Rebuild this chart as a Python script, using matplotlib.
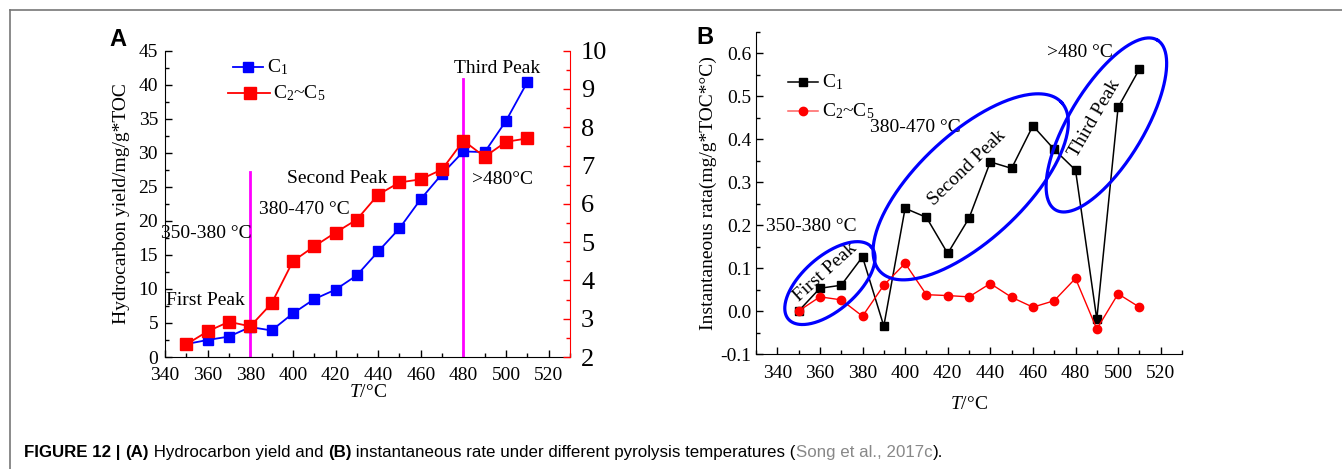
import numpy as np
import matplotlib
matplotlib.use("Agg")
import matplotlib.pyplot as plt
from matplotlib.ticker import MultipleLocator
from matplotlib.lines import Line2D

plt.rcParams['font.family'] = ['Liberation Serif', 'DejaVu Serif']
plt.rcParams['mathtext.fontset'] = 'custom'
plt.rcParams['mathtext.rm'] = 'Liberation Serif'
plt.rcParams['mathtext.it'] = 'Liberation Serif:italic'

# ---------------- data ----------------
temps = [350, 360, 370, 380, 390, 400, 410, 420, 430, 440, 450, 460, 470, 480, 490, 500, 510]
yield_c1 = [1.9, 2.5, 3.0, 4.4, 3.9, 6.4, 8.5, 9.9, 12.0, 15.5, 18.9, 23.2, 26.9, 30.2, 30.1, 34.7, 40.4]
yield_c2c5 = [2.33, 2.67, 2.92, 2.80, 3.40, 4.50, 4.89, 5.25, 5.59, 6.24, 6.56, 6.64, 6.90, 7.65, 7.23, 7.62, 7.71]
rate_c1 = [0.0, 0.053, 0.060, 0.126, -0.035, 0.239, 0.218, 0.134, 0.216, 0.347, 0.332, 0.431, 0.376, 0.328, -0.019, 0.474, 0.563]
rate_c2c5 = [0.0, 0.033, 0.026, -0.012, 0.060, 0.111, 0.038, 0.036, 0.033, 0.064, 0.032, 0.009, 0.024, 0.076, -0.042, 0.040, 0.009]
x_ticks = [340, 360, 380, 400, 420, 440, 460, 480, 500, 520]
peak_bounds = [380, 480]
peak_line_tops = [27.2, 40.9]
series_names = ['C$_1$', 'C$_2$~C$_5$']

W, H = 1342, 469
fig = plt.figure(figsize=(W / 100, H / 100), dpi=100)

def fx(px):
    return px / W

def fy(py):
    return 1 - py / H

def px2data(ax, px, py):
    return ax.transData.inverted().transform((px, H - py))

# frame lines of the figure box
fig.add_artist(Line2D([fx(9.5), 1.0], [fy(10.5), fy(10.5)], color='#777777', lw=1.2))
fig.add_artist(Line2D([fx(9.5), fx(9.5)], [fy(10.5), 0.0], color='#777777', lw=1.2))

# ---------------- panel A ----------------
axA = fig.add_axes([fx(165), fy(357), fx(570 - 165), (357 - 50.7) / H])
axA.plot(temps, yield_c1, color='#0000ff', marker='s', ms=7, lw=1.3, zorder=3)
axA.set_xlim(340, 530)
axA.set_ylim(0, 45)
axA.xaxis.set_major_locator(MultipleLocator(20))
axA.xaxis.set_minor_locator(MultipleLocator(10))
axA.yaxis.set_major_locator(MultipleLocator(5))
axA.yaxis.set_minor_locator(MultipleLocator(2.5))
axA.spines['top'].set_visible(False)
axA.spines['right'].set_visible(False)
axA.tick_params(which='both', direction='in', labelsize=14, top=False, right=False)
axA.tick_params(which='major', length=5, width=1)
axA.tick_params(which='minor', length=3, width=1)
axA.tick_params(axis='x', pad=7)
axA.tick_params(axis='y', pad=5)
for i, b in enumerate(peak_bounds):
    axA.plot([b, b], [0, peak_line_tops[i]], color='#ff00ff', lw=2, zorder=2)
axA.set_ylabel('Hydrocarbon yield/mg/g*TOC', fontsize=14, labelpad=6)
axA.set_xlabel('$T$/°C', fontsize=14, labelpad=0)

axA2 = axA.twinx()
axA2.plot(temps, yield_c2c5, color='#ff0000', marker='s', ms=8.5, lw=1.3, zorder=3)
axA2.set_ylim(2, 10)
axA2.yaxis.set_major_locator(MultipleLocator(1))
axA2.yaxis.set_minor_locator(MultipleLocator(0.5))
axA2.spines['top'].set_visible(False)
axA2.spines['left'].set_visible(False)
axA2.spines['bottom'].set_visible(False)
axA2.spines['right'].set_color('#ff0000')
axA2.tick_params(which='both', direction='in', colors='#ff0000', labelcolor='black', labelsize=19)
axA2.tick_params(which='major', length=5, width=1, pad=8)
axA2.tick_params(which='minor', length=3, width=1)

# legend A (drawn manually, positions in pixels)
for (x0, x1, xm, py, col, ms, tx, name) in [(233, 263, 248, 67, '#0000ff', 7, 267, series_names[0]),
                                             (228, 270, 250, 93, '#ff0000', 8.5, 273, series_names[1])]:
    p0 = px2data(axA, x0, py)
    p1 = px2data(axA, x1, py)
    pm = px2data(axA, xm, py)
    axA.plot([p0[0], p1[0]], [p0[1], p1[1]], color=col, lw=1.3, clip_on=False)
    axA.plot([pm[0]], [pm[1]], color=col, marker='s', ms=ms, ls='none', clip_on=False)
    pt = px2data(axA, tx, py)
    axA.text(pt[0], pt[1], name, fontsize=14, va='center', ha='left')

def txtA(px, py, s):
    p = px2data(axA, px, py)
    axA.text(p[0], p[1], s, fontsize=14, ha='center', va='center')

txtA(497, 68, 'Third Peak')
txtA(337, 178, 'Second Peak')
txtA(304, 209, '380-470 °C')
txtA(502.5, 179, '>480°C')
txtA(206, 233, '350-380 °C')
txtA(205.5, 300, 'First Peak')

fig.text(fx(118), fy(40), 'A', fontsize=17, fontweight='bold', family='Liberation Sans',
         ha='center', va='center')

# ---------------- panel B ----------------
axB = fig.add_axes([fx(756), fy(354), fx(1182 - 756), (354 - 31.7) / H])
axB.plot(temps, rate_c1, color='black', marker='s', ms=5.5, lw=1.1, zorder=3)
axB.plot(temps, rate_c2c5, color='#ff0000', marker='o', ms=6, lw=1.0, zorder=3)
axB.set_xlim(330, 530)
axB.set_ylim(-0.1, 0.65)
axB.set_xticks(x_ticks)
axB.xaxis.set_minor_locator(MultipleLocator(10))
yt = np.round(np.arange(-0.1, 0.61, 0.1), 1)
axB.set_yticks(yt)
axB.set_yticklabels([f'{v:.1f}' for v in yt])
axB.yaxis.set_minor_locator(MultipleLocator(0.05))
axB.spines['top'].set_visible(False)
axB.spines['right'].set_visible(False)
axB.tick_params(which='both', direction='in', labelsize=14, top=False, right=False)
axB.tick_params(which='major', length=5, width=1)
axB.tick_params(which='minor', length=3, width=1)
axB.tick_params(axis='x', pad=8)
axB.set_ylabel('Instantaneous rata(mg/g*TOC*°C)', fontsize=14, labelpad=2)
axB.set_xlabel('$T$/°C', fontsize=14, labelpad=10)

# legend B (manual)
for (py, col, mcol, mk, ms, name) in [(82, 'black', 'black', 's', 5.5, series_names[0]),
                                      (111, '#ff6060', '#ff0000', 'o', 6, series_names[1])]:
    p0 = px2data(axB, 788, py)
    p1 = px2data(axB, 818, py)
    axB.plot([p0[0], p1[0]], [p0[1], p1[1]], color=col, lw=1.1, clip_on=False)
    axB.plot([(p0[0] + p1[0]) / 2], [p0[1]], color=mcol, marker=mk, ms=ms, ls='none')
    pt = px2data(axB, 822, py)
    axB.text(pt[0], pt[1], name, fontsize=14, va='center', ha='left')

# ellipses (display-space shapes anchored at data centers)
ellipses = [  # center x, center y (data), semi-major px, semi-minor px, angle deg
    (364.7, 0.065, 55, 27, 41),
    (430.8, 0.289, 124, 53, 43),
    (494.5, 0.433, 99, 37.5, 59),
]
t = np.linspace(0, 2 * np.pi, 300)
for cx, cy, a, b, ang in ellipses:
    c = axB.transData.transform((cx, cy))
    th = np.deg2rad(ang)
    ex = a * np.cos(t) * np.cos(th) - b * np.sin(t) * np.sin(th)
    ey = a * np.cos(t) * np.sin(th) + b * np.sin(t) * np.cos(th)
    pts = axB.transData.inverted().transform(np.column_stack([c[0] + ex, c[1] + ey]))
    axB.plot(pts[:, 0], pts[:, 1], color='#0000ff', lw=2.3, clip_on=False, zorder=4)

def txtB(px, py, s, rot=0):
    p = px2data(axB, px, py)
    axB.text(p[0], p[1], s, fontsize=14, ha='center', va='center', rotation=rot,
             rotation_mode='anchor')

txtB(1080, 52, '>480 °C')
txtB(915, 127, '380-470 °C')
txtB(811, 226, '350-380 °C')
txtB(967, 168, 'Second Peak', 44)
txtB(1095, 118, 'Third Peak', 60)
txtB(825, 272, 'First Peak', 42)

fig.text(fx(705), fy(38), 'B', fontsize=17, fontweight='bold', family='Liberation Sans',
         ha='center', va='center')

# ---------------- caption ----------------
pieces = [('FIGURE 12 | ', 'bold', 'black'), ('(A)', 'bold', 'black'),
          (' Hydrocarbon yield and ', 'normal', 'black'), ('(B)', 'bold', 'black'),
          (' instantaneous rate under different pyrolysis temperatures (', 'normal', 'black'),
          ('Song et al., 2017c', 'normal', '#888888'), (').', 'normal', 'black')]
fig.canvas.draw()
renderer = fig.canvas.get_renderer()
xpos = 24
for s, w, col in pieces:
    tx = fig.text(fx(xpos), fy(452), s, fontsize=12.2, fontweight=w, color=col,
                  family='Liberation Sans', ha='left', va='center')
    bb = tx.get_window_extent(renderer=renderer)
    xpos += bb.width

fig.savefig('out.png', dpi=100)
